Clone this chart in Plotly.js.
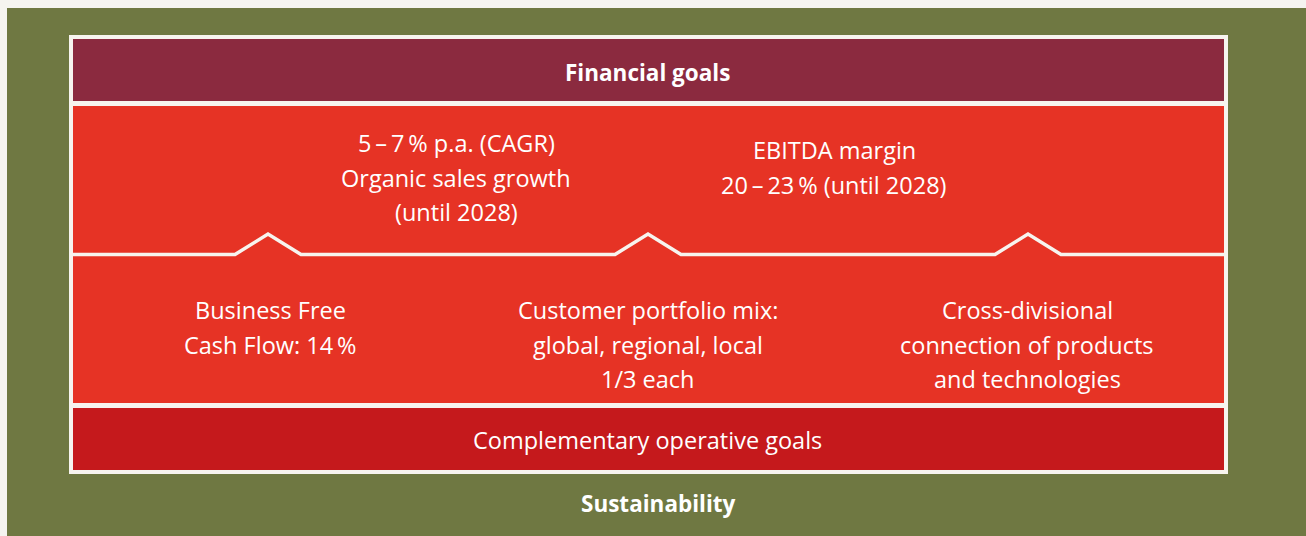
<!DOCTYPE html>
<html>
<head>
<meta charset="utf-8">
<script src="https://cdn.plot.ly/plotly-3.0.1.min.js"></script>
<style>html,body{margin:0;padding:0;background:#f5f4f0;}#chart{width:1306px;height:536px;}</style>
</head>
<body>
<div id="chart"></div>
<script>
// ---- content ----
var headerLabel = "Financial goals";
var financialGoals = [
  ["5\u2009–\u20097\u2009% p.a. (CAGR)", "Organic sales growth", "(until 2028)"],
  ["EBITDA margin", "20\u2009–\u200923\u2009% (until 2028)"]
];
var operativeGoals = [
  ["Business Free", "Cash Flow: 14\u2009%"],
  ["Customer portfolio mix:", "global, regional, local", "1/3 each"],
  ["Cross-divisional", "connection of products", "and technologies"]
];
var footerLabel = "Complementary operative goals";
var baseLabel = "Sustainability";

// ---- layout geometry ----
var W = 1306, H = 536;
var col = {bg:'#f5f4f0', olive:'#6f7842', maroon:'#8b2a3f', red:'#e63325', dark:'#c5191c', white:'#f7f4ef'};
var FONT = '"Open Sans", "Noto Sans", sans-serif';
var fsBold = 22.5, fs = 23.5;
var lineGap = 34.5;

var shapes = [];
function rect(x0,y0,x1,y1,c){shapes.push({type:'rect',xref:'x',yref:'y',x0:x0,y0:y0,x1:x1,y1:y1,fillcolor:c,line:{width:0},layer:'below'});}
rect(7,8,W,H,col.olive);
rect(69,35,1228,474,col.white);
rect(73,39,1224,101,col.maroon);
rect(73,106,1224,403,col.red);
rect(73,408,1224,470,col.dark);

// zig-zag divider
var peaks = [268, 648, 1028];
var baseY = 254.5, apexY = 234, half = 33;
var p = 'M73,' + baseY;
peaks.forEach(function(px){ p += ' L' + (px-half) + ',' + baseY + ' L' + px + ',' + apexY + ' L' + (px+half) + ',' + baseY; });
p += ' L1224,' + baseY;
shapes.push({type:'path',xref:'x',yref:'y',path:p,line:{color:col.white,width:3.5},layer:'above'});

var ann = [];
function txt(x,y,t,bold){ann.push({x:x,y:y,xref:'x',yref:'y',text:bold?'<b>'+t+'</b>':t,showarrow:false,xanchor:'center',yanchor:'middle',font:{family:FONT,size:bold?fsBold:fs,color:'#ffffff'}});}
txt(647,72,headerLabel,true);
var fgPos = [[456,143],[834,150]];
financialGoals.forEach(function(lines,i){lines.forEach(function(l,j){txt(fgPos[i][0],fgPos[i][1]+j*lineGap,l);});});
var ogPos = [[270,310],[648,310],[1027,310]];
operativeGoals.forEach(function(lines,i){lines.forEach(function(l,j){txt(ogPos[i][0],ogPos[i][1]+j*lineGap,l);});});
txt(647,440,footerLabel);
txt(658,503,baseLabel,true);

Plotly.newPlot('chart',[],{
  width:W,height:H,margin:{l:0,r:0,t:0,b:0},
  paper_bgcolor:col.bg,plot_bgcolor:col.bg,
  xaxis:{range:[0,W],visible:false,fixedrange:true},
  yaxis:{range:[H,0],visible:false,fixedrange:true},
  shapes:shapes,annotations:ann,showlegend:false
},{staticPlot:true,displayModeBar:false});
</script>
</body>
</html>
